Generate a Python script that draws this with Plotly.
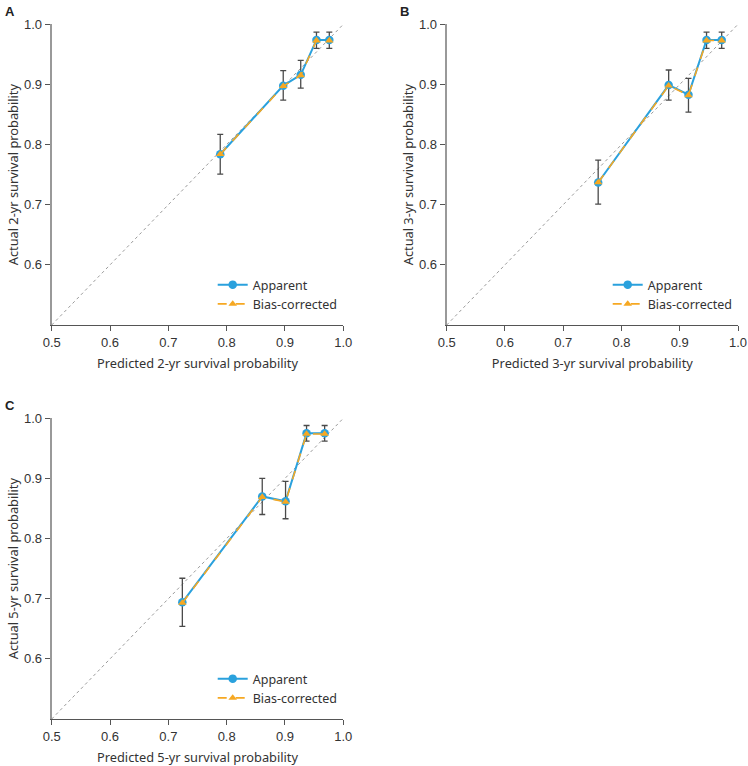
import plotly.graph_objects as go

# ---------------- data ----------------
panels = ["A", "B", "C"]
years = ["2", "3", "5"]

pred_A = [0.789, 0.897, 0.927, 0.954, 0.976]
app_A = [0.784, 0.898, 0.916, 0.974, 0.974]
bias_A = [0.784, 0.897, 0.915, 0.973, 0.973]
up_A = [0.817, 0.923, 0.940, 0.987, 0.987]
lo_A = [0.751, 0.874, 0.894, 0.960, 0.960]

pred_B = [0.760, 0.881, 0.915, 0.946, 0.972]
app_B = [0.737, 0.899, 0.883, 0.974, 0.974]
bias_B = [0.737, 0.898, 0.882, 0.973, 0.973]
up_B = [0.774, 0.924, 0.910, 0.987, 0.987]
lo_B = [0.701, 0.874, 0.854, 0.960, 0.960]

pred_C = [0.724, 0.861, 0.901, 0.937, 0.968]
app_C = [0.694, 0.870, 0.862, 0.975, 0.975]
bias_C = [0.693, 0.869, 0.861, 0.974, 0.974]
up_C = [0.734, 0.900, 0.895, 0.988, 0.988]
lo_C = [0.654, 0.840, 0.833, 0.962, 0.962]

diag = [0.5, 1.0]
tick_vals = [0.5, 0.6, 0.7, 0.8, 0.9, 1.0]
tick_text = ["0.5", "0.6", "0.7", "0.8", "0.9", "1.0"]
ytick_vals = [0.6, 0.7, 0.8, 0.9, 1.0]
ytick_text = ["0.6", "0.7", "0.8", "0.9", "1.0"]

BLUE = "#2aa1dd"
ORANGE = "#f6a822"
ERR = "#4a4a4a"
TICKFONT = dict(family="Liberation Sans, Arial", size=13, color="#333")
TITLEFONT = dict(family="Noto Sans", size=12.8, color="#333")

W, H = 748, 766

def px_x(a, b):
    return [a / W, b / W]

def px_y(top, bottom):
    return [1 - bottom / H, 1 - top / H]

domains = {
    "A": (px_x(51.7, 343.3), px_y(24.3, 325)),
    "B": (px_x(446.7, 738), px_y(24.3, 325)),
    "C": (px_x(51.7, 343.3), px_y(418.3, 719)),
}

data = {
    "A": (pred_A, app_A, bias_A, up_A, lo_A),
    "B": (pred_B, app_B, bias_B, up_B, lo_B),
    "C": (pred_C, app_C, bias_C, up_C, lo_C),
}

fig = go.Figure()
layout = dict(
    width=W, height=H, margin=dict(l=0, r=0, t=0, b=0, autoexpand=False),
    paper_bgcolor="white", plot_bgcolor="white",
)
annotations = []

for i, (p, yr) in enumerate(zip(panels, years)):
    n = "" if i == 0 else str(i + 1)
    xa, ya = "x" + n, "y" + n
    lg = "legend" if i == 0 else "legend" + str(i + 1)
    pred, app, bias, up, lo = data[p]
    # diagonal
    fig.add_trace(go.Scatter(x=diag, y=diag, mode="lines", xaxis=xa, yaxis=ya,
                             line=dict(color="#9a9a9a", width=1, dash="dot"),
                             showlegend=False, hoverinfo="skip"))
    fig.add_trace(go.Scatter(
        x=pred, y=app, mode="lines+markers", name="Apparent", xaxis=xa, yaxis=ya,
        legend=lg,
        line=dict(color=BLUE, width=2), marker=dict(symbol="circle", size=8.5, color=BLUE),
        error_y=dict(type="data", symmetric=False,
                     array=[u - v for u, v in zip(up, app)],
                     arrayminus=[v - l for v, l in zip(app, lo)],
                     color=ERR, thickness=1.3, width=3)))
    fig.add_trace(go.Scatter(
        x=pred, y=bias, mode="lines+markers", name="Bias-corrected", xaxis=xa, yaxis=ya,
        legend=lg,
        line=dict(color=ORANGE, width=1.6, dash="dash"),
        marker=dict(symbol="triangle-up", size=7.5, color=ORANGE)))

    dx, dy = domains[p]
    layout["xaxis" + n] = dict(
        domain=dx, anchor=ya, range=[0.5, 1.0], tickvals=tick_vals, ticktext=tick_text,
        showgrid=False, zeroline=False, showline=True, linecolor="#555", linewidth=1,
        ticks="outside", ticklen=5, tickcolor="#555", tickfont=TICKFONT, automargin=False,
        title=dict(text=f"Predicted {yr}-yr survival probability", font=TITLEFONT, standoff=10),
    )
    layout["yaxis" + n] = dict(
        domain=dy, anchor=xa, range=[0.5, 1.0], tickvals=ytick_vals, ticktext=ytick_text,
        showgrid=False, zeroline=False, showline=True, linecolor="#999", linewidth=2,
        ticks="outside", ticklen=5, tickcolor="#555", tickfont=TICKFONT, automargin=False,
        title=dict(text=f"Actual {yr}-yr survival probability", font=TITLEFONT, standoff=2.5),
    )
    leg_left = dx[0] + 161 / W
    leg_bottom = dy[0] + 6 / H
    layout[lg] = dict(x=leg_left, y=leg_bottom, xanchor="left", yanchor="bottom",
                      bgcolor="rgba(0,0,0,0)", font=dict(family="Noto Sans", size=12.5, color="#333"),
                      tracegroupgap=2, itemwidth=30)
    annotations.append(dict(text=f"<b>{p}</b>", xref="paper", yref="paper",
                            x=(dx[0] - 49 / W), y=dy[1] + 22 / H, xanchor="left", yanchor="top",
                            showarrow=False, font=dict(family="Liberation Sans, Arial", size=13, color="#222")))

layout["annotations"] = annotations
fig.update_layout(**layout)
fig.write_html("out.html", config={"displayModeBar": False},
               post_script="document.body.style.margin='0';")
